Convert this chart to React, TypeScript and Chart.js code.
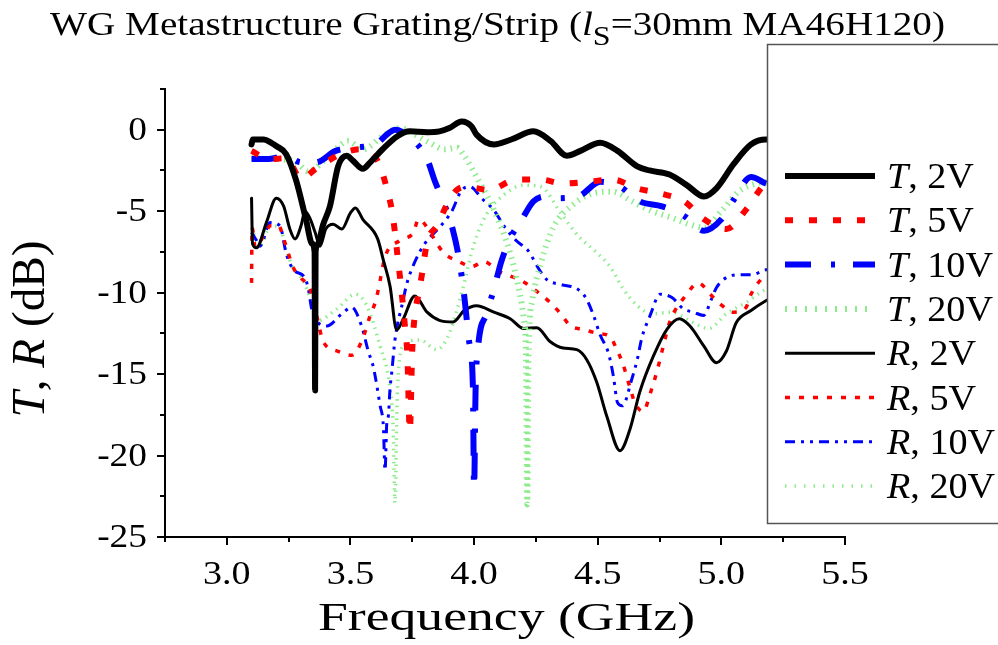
import React, { useEffect, useRef } from "react";
import { Chart, registerables } from "chart.js";

Chart.register(...registerables);

const FONT = '"Liberation Serif", "Times New Roman", Times, serif';

// ---------- data (frequency in GHz, value in dB) ----------
const t2vX = [3.1, 3.105, 3.15, 3.18, 3.2, 3.24, 3.28, 3.32, 3.345, 3.355, 3.357, 3.359, 3.365, 3.39, 3.417, 3.45, 3.485, 3.51, 3.55, 3.58, 3.63, 3.69, 3.74, 3.81, 3.86, 3.9, 3.95, 3.99, 4.01, 4.08, 4.15, 4.24, 4.31, 4.375, 4.43, 4.51, 4.58, 4.66, 4.71, 4.79, 4.86, 4.93, 4.98, 5.05, 5.12, 5.18, 5.22];
const t2vY = [-0.9, -0.6, -0.6, -0.8, -1.0, -1.5, -3.1, -5.5, -7.0, -7.5, -16.0, -7.5, -7.1, -5.8, -4.7, -2.25, -1.6, -1.9, -2.4, -2.0, -1.2, -0.4, -0.1, -0.15, -0.1, 0.1, 0.5, 0.2, -0.3, -0.9, -0.6, -0.1, -0.7, -1.6, -1.3, -0.8, -1.3, -2.25, -2.5, -2.75, -3.4, -4.1, -3.6, -2.1, -0.9, -0.6, -0.6];

const t5vX = [3.1, 3.17, 3.24, 3.3, 3.36, 3.46, 3.54, 3.6, 3.62, 3.647, 3.667, 3.68, 3.69, 3.7, 3.72, 3.73, 3.74, 3.75, 3.76, 3.775, 3.79, 3.81, 3.85, 3.89, 3.93, 3.97, 4.06, 4.17, 4.27, 4.36, 4.455, 4.56, 4.66, 4.75, 4.85, 4.93, 5.02, 5.1, 5.16, 5.22];
const t5vY = [-1.3, -1.8, -1.75, -3.0, -2.4, -1.5, -1.2, -1.7, -2.25, -3.6, -4.9, -6.3, -7.7, -9.0, -12.0, -13.8, -18.5, -13.5, -11.4, -10.1, -8.8, -6.9, -5.9, -4.6, -3.7, -3.5, -3.7, -3.06, -3.06, -3.3, -3.2, -3.06, -3.6, -3.9, -4.4, -5.5, -6.1, -4.9, -3.6, -2.6];

const t10vX = [3.1, 3.17, 3.24, 3.3, 3.36, 3.44, 3.51, 3.6, 3.655, 3.68, 3.75, 3.81, 3.84, 3.88, 3.915, 3.94, 3.96, 3.98, 3.995, 4.0, 4.006, 4.017, 4.05, 4.08, 4.11, 4.145, 4.19, 4.24, 4.29, 4.33, 4.42, 4.51, 4.59, 4.67, 4.76, 4.85, 4.93, 5.0, 5.05, 5.12, 5.18, 5.22];
const t10vY = [-1.8, -1.8, -1.6, -2.0, -2.0, -1.3, -1.1, -0.9, -0.2, 0.0, -0.6, -1.8, -3.1, -4.6, -6.2, -8.0, -10.2, -13.0, -15.7, -22.0, -16.0, -13.2, -11.3, -9.8, -8.1, -6.7, -5.6, -4.4, -4.1, -4.2, -4.1, -3.2, -3.5, -4.4, -4.7, -5.3, -6.2, -5.5, -4.3, -2.9, -3.3, -3.5];

const t20vX = [3.1, 3.17, 3.27, 3.33, 3.42, 3.49, 3.55, 3.63, 3.7, 3.76, 3.82, 3.88, 3.93, 3.96, 4.01, 4.07, 4.13, 4.17, 4.2, 4.21, 4.215, 4.22, 4.235, 4.27, 4.32, 4.4, 4.48, 4.56, 4.64, 4.72, 4.8, 4.87, 4.93, 5.0, 5.07, 5.14, 5.2];
const t20vY = [-1.7, -1.8, -1.9, -2.55, -1.5, -0.7, -1.2, -0.4, 0.1, -0.3, -0.8, -1.2, -1.1, -1.6, -2.9, -4.6, -6.8, -9.0, -11.5, -14.0, -23.0, -14.0, -10.5, -8.2, -6.0, -4.6, -3.9, -3.8, -4.4, -5.0, -5.4, -5.8, -6.0, -5.0, -3.8, -3.3, -3.2];

const r2vX = [3.1, 3.104, 3.12, 3.16, 3.2, 3.23, 3.255, 3.276, 3.3, 3.316, 3.335, 3.357, 3.377, 3.4, 3.43, 3.465, 3.5, 3.52, 3.55, 3.61, 3.633, 3.66, 3.687, 3.714, 3.76, 3.81, 3.86, 3.915, 3.96, 4.01, 4.08, 4.146, 4.2, 4.254, 4.307, 4.36, 4.415, 4.455, 4.496, 4.537, 4.59, 4.63, 4.67, 4.725, 4.78, 4.83, 4.873, 4.93, 4.98, 5.02, 5.06, 5.12, 5.18, 5.22];
const r2vY = [-4.2, -7.0, -7.25, -5.7, -4.2, -4.7, -6.1, -6.7, -5.9, -5.0, -5.4, -6.3, -7.15, -6.1, -5.8, -6.1, -5.1, -4.8, -5.5, -6.7, -8.0, -9.6, -12.3, -11.6, -10.2, -11.2, -11.7, -11.8, -11.1, -10.8, -11.2, -11.6, -12.2, -12.15, -13.0, -13.4, -13.5, -14.1, -15.5, -17.6, -19.7, -18.4, -16.1, -13.9, -12.25, -11.6, -12.05, -13.3, -14.3, -13.6, -11.85, -11.1, -10.5, -10.2];

const r5vX = [3.1, 3.102, 3.115, 3.16, 3.175, 3.21, 3.23, 3.27, 3.3, 3.337, 3.35, 3.363, 3.39, 3.45, 3.505, 3.545, 3.58, 3.6, 3.613, 3.64, 3.7, 3.755, 3.775, 3.815, 3.85, 3.88, 3.94, 3.99, 4.04, 4.1, 4.15, 4.206, 4.26, 4.307, 4.35, 4.39, 4.44, 4.5, 4.55, 4.577, 4.6, 4.63, 4.65, 4.685, 4.71, 4.74, 4.765, 4.79, 4.86, 4.907, 4.955, 4.995, 5.05, 5.1, 5.12, 5.16, 5.2];
const r5vY = [-9.4, -6.0, -7.2, -6.2, -5.9, -5.9, -6.7, -8.5, -9.1, -9.8, -10.6, -11.4, -13.0, -13.6, -13.85, -13.0, -11.4, -10.6, -9.8, -7.8, -6.8, -6.3, -5.5, -6.1, -7.0, -7.6, -8.1, -8.4, -8.1, -8.7, -9.0, -9.4, -10.0, -10.6, -11.3, -12.05, -12.25, -12.5, -12.7, -13.5, -14.3, -15.8, -16.75, -17.3, -16.3, -14.8, -13.3, -11.85, -10.1, -9.4, -10.1, -10.7, -11.2, -10.9, -10.1, -9.2, -8.8];

const r10vX = [3.1, 3.12, 3.134, 3.175, 3.215, 3.24, 3.27, 3.316, 3.33, 3.343, 3.357, 3.404, 3.465, 3.505, 3.545, 3.572, 3.593, 3.62, 3.633, 3.64, 3.647, 3.653, 3.66, 3.667, 3.68, 3.714, 3.727, 3.755, 3.8, 3.86, 3.91, 3.95, 3.984, 4.03, 4.078, 4.125, 4.17, 4.22, 4.26, 4.294, 4.35, 4.42, 4.455, 4.483, 4.51, 4.543, 4.563, 4.58, 4.6, 4.638, 4.66, 4.678, 4.712, 4.752, 4.8, 4.847, 4.887, 4.928, 4.96, 4.98, 5.03, 5.075, 5.12, 5.18, 5.22];
const r10vY = [-6.3, -6.8, -7.15, -5.7, -5.9, -7.6, -8.6, -9.1, -9.8, -11.0, -11.6, -12.05, -11.3, -10.9, -12.05, -13.6, -14.6, -16.95, -18.2, -20.9, -18.0, -17.6, -15.9, -14.9, -12.9, -10.4, -9.5, -8.3, -7.0, -6.0, -5.0, -3.7, -3.5, -4.2, -4.9, -6.0, -6.8, -7.45, -8.5, -9.2, -9.5, -9.8, -10.4, -11.4, -12.6, -13.7, -15.1, -16.75, -16.95, -15.3, -14.1, -12.8, -11.4, -10.1, -10.3, -11.0, -11.2, -11.4, -10.4, -9.7, -9.0, -8.9, -8.9, -8.6, -8.5];

const r20vX = [3.1, 3.12, 3.14, 3.175, 3.215, 3.24, 3.27, 3.31, 3.34, 3.363, 3.445, 3.52, 3.566, 3.62, 3.66, 3.673, 3.68, 3.69, 3.714, 3.78, 3.85, 3.9, 3.95, 4.0, 4.05, 4.12, 4.2, 4.27, 4.35, 4.42, 4.5, 4.55, 4.6, 4.66, 4.72, 4.8, 4.88, 4.95, 5.02, 5.1, 5.18, 5.22];
const r20vY = [-6.0, -6.8, -7.0, -5.9, -6.0, -7.4, -8.5, -9.3, -10.5, -11.75, -11.0, -10.1, -10.8, -13.3, -15.9, -18.4, -22.9, -16.0, -13.3, -12.9, -13.5, -12.5, -10.0, -7.0, -5.2, -4.0, -3.4, -3.5, -5.1, -6.5, -7.6, -8.4, -9.7, -10.8, -11.3, -11.2, -11.8, -12.2, -11.3, -10.6, -9.8, -9.6];

const seriesLabels = ["T, 2V", "T, 5V", "T, 10V", "T, 20V", "R, 2V", "R, 5V", "R, 10V", "R, 20V"];
const xTickValues = [3.0, 3.5, 4.0, 4.5, 5.0, 5.5];
const xTickLabels = ["3.0", "3.5", "4.0", "4.5", "5.0", "5.5"];
const yTickValues = [0, -5, -10, -15, -20, -25];
const yTickLabels = ["0", "-5", "-10", "-15", "-20", "-25"];
const titleText = ["WG Metastructure Grating/Strip (", "l", "S", "=30mm MA46H120)"];
const xTitle = "Frequency (GHz)";
const yTitleParts = ["T", ", ", "R", " (dB)"];

const RED = "#ff0000";
const BLUE = "#0000ff";
const GREEN = "rgb(140,236,140)";

type Part = { t: string; italic?: boolean; size: number; dy?: number };

const fontOf = (p: Part) => `${p.italic ? "italic " : ""}${p.size}px ${FONT}`;

function partsWidth(ctx: CanvasRenderingContext2D, parts: Part[]) {
  let w = 0;
  for (const p of parts) {
    ctx.font = fontOf(p);
    w += ctx.measureText(p.t).width;
  }
  return w;
}

function drawParts(ctx: CanvasRenderingContext2D, parts: Part[], x: number, y: number, sx: number) {
  ctx.save();
  ctx.translate(x, y);
  ctx.scale(sx, 1);
  ctx.textBaseline = "alphabetic";
  ctx.textAlign = "left";
  let cx = 0;
  for (const p of parts) {
    ctx.font = fontOf(p);
    ctx.fillText(p.t, cx, p.dy || 0);
    cx += ctx.measureText(p.t).width;
  }
  ctx.restore();
}

const decorPlugin = {
  id: "decor",
  afterDraw(chart: any) {
    const { ctx, chartArea } = chart;
    const xs = chart.scales.x;
    const ys = chart.scales.y;
    ctx.save();
    ctx.strokeStyle = "#000";
    ctx.fillStyle = "#000";
    ctx.lineWidth = 2;
    ctx.setLineDash([]);

    for (let v = 2.75; v <= 5.5001; v += 0.25) {
      const px = Math.round(xs.getPixelForValue(v));
      const major = xTickValues.some((t) => Math.abs(t - v) < 1e-6);
      ctx.beginPath();
      ctx.moveTo(px, chartArea.bottom);
      ctx.lineTo(px, chartArea.bottom + (major ? 8 : 5));
      ctx.stroke();
    }
    for (let v = -25; v <= 2.5001; v += 2.5) {
      const py = Math.round(ys.getPixelForValue(v));
      const major = yTickValues.some((t) => Math.abs(t - v) < 1e-6);
      ctx.beginPath();
      ctx.moveTo(chartArea.left, py);
      ctx.lineTo(chartArea.left - (major ? 8 : 5), py);
      ctx.stroke();
    }

    xTickValues.forEach((v, i) => {
      const parts: Part[] = [{ t: xTickLabels[i], size: 34 }];
      const sx = 1.12;
      const w = partsWidth(ctx, parts) * sx;
      drawParts(ctx, parts, xs.getPixelForValue(v) - w / 2, chartArea.bottom + 47, sx);
    });
    yTickValues.forEach((v, i) => {
      const parts: Part[] = [{ t: yTickLabels[i], size: 34 }];
      const sx = 1.1;
      const w = partsWidth(ctx, parts) * sx;
      drawParts(ctx, parts, chartArea.left - 18 - w, ys.getPixelForValue(v) + 10, sx);
    });

    {
      const parts: Part[] = [{ t: xTitle, size: 40 }];
      const w = partsWidth(ctx, parts);
      drawParts(ctx, parts, 318, 630, 377 / w);
    }
    {
      const parts: Part[] = [
        { t: yTitleParts[0], italic: true, size: 46 },
        { t: yTitleParts[1], size: 46 },
        { t: yTitleParts[2], italic: true, size: 46 },
        { t: yTitleParts[3], size: 46 },
      ];
      const w = partsWidth(ctx, parts);
      const sx = 177 / w;
      ctx.save();
      ctx.translate(44, 329);
      ctx.rotate(-Math.PI / 2);
      drawParts(ctx, parts, -(w * sx) / 2, 0, sx);
      ctx.restore();
    }
    {
      const parts: Part[] = [
        { t: titleText[0], size: 33 },
        { t: titleText[1], italic: true, size: 33 },
        { t: titleText[2], size: 27, dy: 10 },
        { t: titleText[3], size: 33 },
      ];
      const w = partsWidth(ctx, parts);
      drawParts(ctx, parts, 50, 35, 895 / w);
    }

    ctx.fillStyle = "#fff";
    ctx.fillRect(767, 44, 240, 479);
    ctx.strokeStyle = "#555";
    ctx.lineWidth = 1.5;
    ctx.strokeRect(767.5, 44.5, 240, 479);
    const datasets = chart.data.datasets;
    datasets.forEach((ds: any, i: number) => {
      const cy = 176 + i * 44.3;
      ctx.save();
      ctx.strokeStyle = ds.borderColor;
      ctx.lineWidth = ds.borderWidth;
      ctx.lineCap = "butt";
      ctx.setLineDash(ds.legendDash || ds.borderDash || []);
      ctx.beginPath();
      ctx.moveTo(785, cy);
      ctx.lineTo(875, cy);
      ctx.stroke();
      ctx.restore();
      ctx.fillStyle = "#000";
      const lab: string = ds.label;
      const parts: Part[] = [
        { t: lab.slice(0, 1), italic: true, size: 35 },
        { t: lab.slice(1), size: 35 },
      ];
      drawParts(ctx, parts, 887, cy + 12, 1.09);
    });
    ctx.restore();
  },
};

function mk(xsArr: number[], ysArr: number[]) {
  return xsArr.map((x, i) => ({ x, y: ysArr[i] }));
}

export default function App() {
  const ref = useRef<HTMLCanvasElement>(null);
  useEffect(() => {
    const canvas = ref.current;
    if (!canvas) return;
    const base = { pointRadius: 0, fill: false, cubicInterpolationMode: "monotone" as const, borderJoinStyle: "round" as const };
    const chart = new Chart(canvas, {
      type: "line",
      data: {
        datasets: [
          { ...base, label: seriesLabels[0], data: mk(t2vX, t2vY), borderColor: "#000", borderWidth: 6, borderCapStyle: "round" },
          { ...base, label: seriesLabels[1], data: mk(t5vX, t5vY), borderColor: RED, borderWidth: 6, borderDash: [8, 16], borderCapStyle: "butt" },
          { ...base, label: seriesLabels[2], data: mk(t10vX, t10vY), borderColor: BLUE, borderWidth: 6, borderDash: [26, 20, 4, 18], borderCapStyle: "butt" },
          { ...base, label: seriesLabels[3], data: mk(t20vX, t20vY), borderColor: GREEN, borderWidth: 6, borderDash: [1.5, 5], legendDash: [2, 8], borderCapStyle: "butt" },
          { ...base, label: seriesLabels[4], data: mk(r2vX, r2vY), borderColor: "#000", borderWidth: 3, borderCapStyle: "round" },
          { ...base, label: seriesLabels[5], data: mk(r5vX, r5vY), borderColor: RED, borderWidth: 3.5, borderDash: [5, 9], borderCapStyle: "butt" },
          { ...base, label: seriesLabels[6], data: mk(r10vX, r10vY), borderColor: BLUE, borderWidth: 3, borderDash: [10, 6, 3, 6, 3, 6], borderCapStyle: "butt" },
          { ...base, label: seriesLabels[7], data: mk(r20vX, r20vY), borderColor: GREEN, borderWidth: 3.5, borderDash: [1.5, 5], legendDash: [1.5, 8], borderCapStyle: "butt" },
        ] as any,
      },
      options: {
        animation: false,
        responsive: false,
        devicePixelRatio: 1,
        layout: { padding: { top: 89, right: 153, left: 0, bottom: 0 } },
        plugins: { legend: { display: false }, tooltip: { enabled: false }, title: { display: false } },
        scales: {
          x: {
            type: "linear",
            min: 2.75,
            max: 5.5,
            ticks: { display: false },
            grid: { display: false },
            border: { display: true, color: "#000", width: 2 },
            afterFit: (s: any) => {
              s.height = 108;
            },
          },
          y: {
            type: "linear",
            min: -25,
            max: 2.5,
            ticks: { display: false },
            grid: { display: false },
            border: { display: true, color: "#000", width: 2 },
            afterFit: (s: any) => {
              s.width = 165;
            },
          },
        },
      } as any,
      plugins: [decorPlugin],
    });
    let alive = true;
    const redraw = () => {
      if (alive) chart.draw();
    };
    const fontsApi: any = (document as any).fonts;
    if (fontsApi && fontsApi.load) {
      Promise.all([
        fontsApi.load('34px "Liberation Serif"'),
        fontsApi.load('italic 34px "Liberation Serif"'),
      ])
        .then(redraw)
        .catch(() => {});
      fontsApi.ready.then(redraw);
    }
    const t1 = setTimeout(redraw, 150);
    const t2 = setTimeout(redraw, 600);
    return () => {
      alive = false;
      clearTimeout(t1);
      clearTimeout(t2);
      chart.destroy();
    };
  }, []);
  return (
    <div style={{ position: "fixed", left: 0, top: 0, width: 998, height: 645, background: "#fff" }}>
      <div style={{ position: "absolute", left: -9999, top: 0, fontFamily: FONT, fontSize: 20 }}>
        <span>Preload</span>
        <span style={{ fontStyle: "italic" }}>Preload</span>
      </div>
      <canvas ref={ref} width={998} height={645} style={{ display: "block", width: 998, height: 645 }} />
    </div>
  );
}
